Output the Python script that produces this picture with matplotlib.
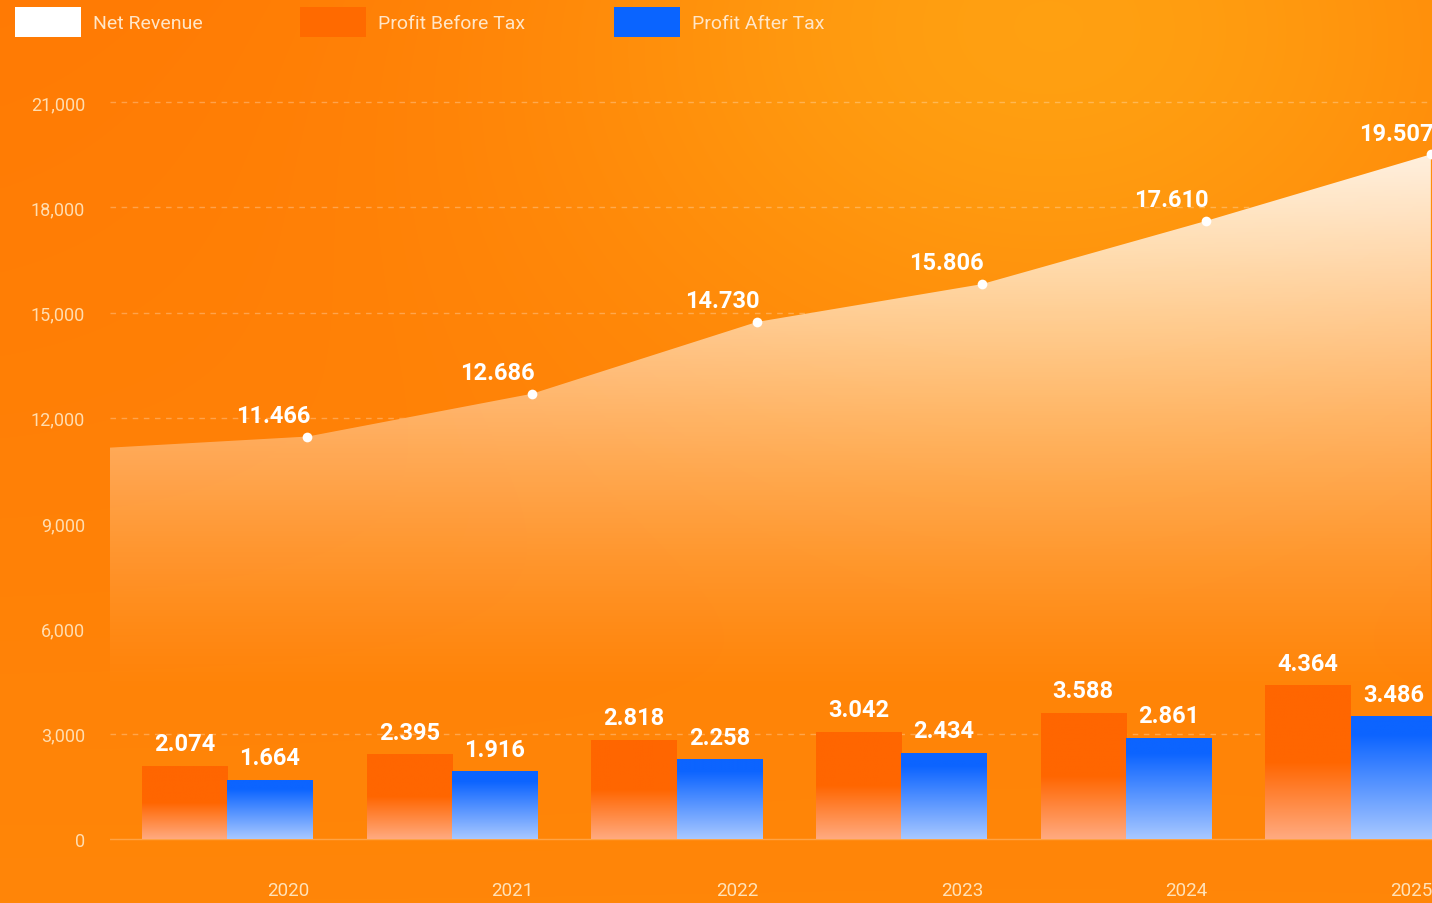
import numpy as np
import matplotlib
matplotlib.use('Agg')
import matplotlib.pyplot as plt
from matplotlib.patches import Rectangle
from matplotlib.path import Path

plt.rcParams['font.family'] = ['Roboto', 'DejaVu Sans']

# Values (billion), labels use '.' as thousands separator
years = [2020, 2021, 2022, 2023, 2024, 2025]
net_revenue = [11466, 12686, 14730, 15806, 17610, 19507]
profit_before_tax = [2074, 2395, 2818, 3042, 3588, 4364]
profit_after_tax = [1664, 1916, 2258, 2434, 2861, 3486]
revenue_left_edge = 11150
y_ticks = [0, 3000, 6000, 9000, 12000, 15000, 18000, 21000]

W, H = 1432, 904
fig = plt.figure(figsize=(W / 100, H / 100), dpi=100)

# orange backdrop, a little brighter towards the top right
bg = fig.add_axes([0, 0, 1, 1])
bg.set_axis_off()
gx, gy = np.meshgrid(np.linspace(0, W, 300), np.linspace(0, H, 200))
g = 122 + 38 * np.exp(-((gx - 1050) / 520) ** 2 - (gy / 380) ** 2) + 12 * (gy / H)
r = np.full_like(g, 255.0)
b = 4 + 0.35 * (g - 122)
img = np.dstack([r, g, b]) / 255.0
bg.imshow(img, extent=(0, W, H, 0), aspect='auto', interpolation='bilinear')
bg.set_xlim(0, W)
bg.set_ylim(H, 0)

left = 110 / W
bottom = (H - 872) / H
ax = fig.add_axes([left, bottom, 1 - left, 872 / H])
ax.patch.set_alpha(0)
for s in ax.spines.values():
    s.set_visible(False)

x = np.arange(len(years))
xlo, xhi = -0.522, 5.362
ylo, yhi = -912, 23932
ax.set_xlim(xlo, xhi)
ax.set_ylim(ylo, yhi)

px = np.concatenate([[xlo], x + 0.357])
py = np.concatenate([[revenue_left_edge], net_revenue])

# upper gridlines only show above the revenue area
above = Path(np.vstack([[[xlo, yhi]], np.column_stack([px, py]), [[xhi + 1, py[-1]], [xhi + 1, yhi], [xlo, yhi]]]))
for t in y_ticks[1:]:
    gl = ax.axhline(t, color='white', alpha=0.28, lw=1, ls=(0, (4, 4)), zorder=1)
    if t > 3000:
        gl.set_clip_path(above, transform=ax.transData)
ax.axhline(0, color='white', alpha=0.25, lw=1, zorder=1)

# net revenue area with a white fade
poly = ax.fill_between(px, py, 0, color='none', lw=0)
yy = np.linspace(yhi, 0, 400)
alpha = 0.88 * np.clip((yy - 3990) / 15670, 0, 1) ** 1.25
grad = np.ones((400, 2, 4))
grad[:, :, 3] = alpha[:, None]
im = ax.imshow(grad, extent=(xlo, xhi, 0, yhi), aspect='auto', zorder=2,
               interpolation='bilinear')
im.set_clip_path(poly.get_paths()[0], transform=ax.transData)
ax.plot(x + 0.357, net_revenue, 'o', color='white', ms=7, mec='none', zorder=5)
for xi, v in zip(x + 0.357, net_revenue):
    ax.annotate(f'{v:,}'.replace(',', '.'), (xi, v), xytext=(-25, 7),
                textcoords='offset points', ha='center', va='bottom',
                color='white', fontsize=17, fontweight='bold', zorder=6)


def gradient_bar(x0, w, h, top, base, solid):
    t = np.linspace(1, 0, 200)
    f = np.clip(t / solid, 0, 1)[:, None]
    c = np.array(base) * (1 - f) + np.array(top) * f
    arr = np.dstack([c[:, 0:1], c[:, 1:2], c[:, 2:3]]) / 255.0
    ax.imshow(np.repeat(arr, 2, axis=1), extent=(x0, x0 + w, 0, h), aspect='auto',
              zorder=3, interpolation='bilinear')


bw = 0.38
for xi, v1, v2 in zip(x, profit_before_tax, profit_after_tax):
    gradient_bar(xi - bw, bw, v1, (255, 102, 0), (255, 170, 128), 0.5)
    gradient_bar(xi, bw, v2, (12, 100, 255), (168, 200, 255), 0.85)
    ax.annotate(f'{v1:,}'.replace(',', '.'), (xi - bw / 2, v1), xytext=(0, 8),
                textcoords='offset points', ha='center', va='bottom',
                color='white', fontsize=17, fontweight='bold', zorder=6)
    ax.annotate(f'{v2:,}'.replace(',', '.'), (xi + bw / 2, v2), xytext=(0, 8),
                textcoords='offset points', ha='center', va='bottom',
                color='white', fontsize=17, fontweight='bold', zorder=6)

ax.set_xlim(xlo, xhi)
ax.set_ylim(ylo, yhi)

ax.set_yticks(y_ticks)
ax.set_yticklabels([f'{t:,}' for t in y_ticks])
ax.set_xticks(x + 0.27)
ax.set_xticklabels([str(y) for y in years])
ax.tick_params(axis='y', length=0, pad=18, labelsize=13, labelcolor='#FFDDB0')
ax.tick_params(axis='x', length=0, pad=7, labelsize=13.5, labelcolor='#FFE2B8')

# legend across the top
legend_items = [('Net Revenue', '#FFFFFF', 15), ('Profit Before Tax', '#FF6A00', 300),
                ('Profit After Tax', '#0A64FF', 614)]
for name, col, x0 in legend_items:
    fig.add_artist(Rectangle((x0 / W, 1 - 38 / H), 66 / W, 30 / H, transform=fig.transFigure,
                             facecolor=col, edgecolor='none'))
    fig.text((x0 + 78) / W, 1 - 24 / H, name, color='#FFE6C8', fontsize=14,
             va='center', ha='left')

fig.savefig('out.png', dpi=100)
